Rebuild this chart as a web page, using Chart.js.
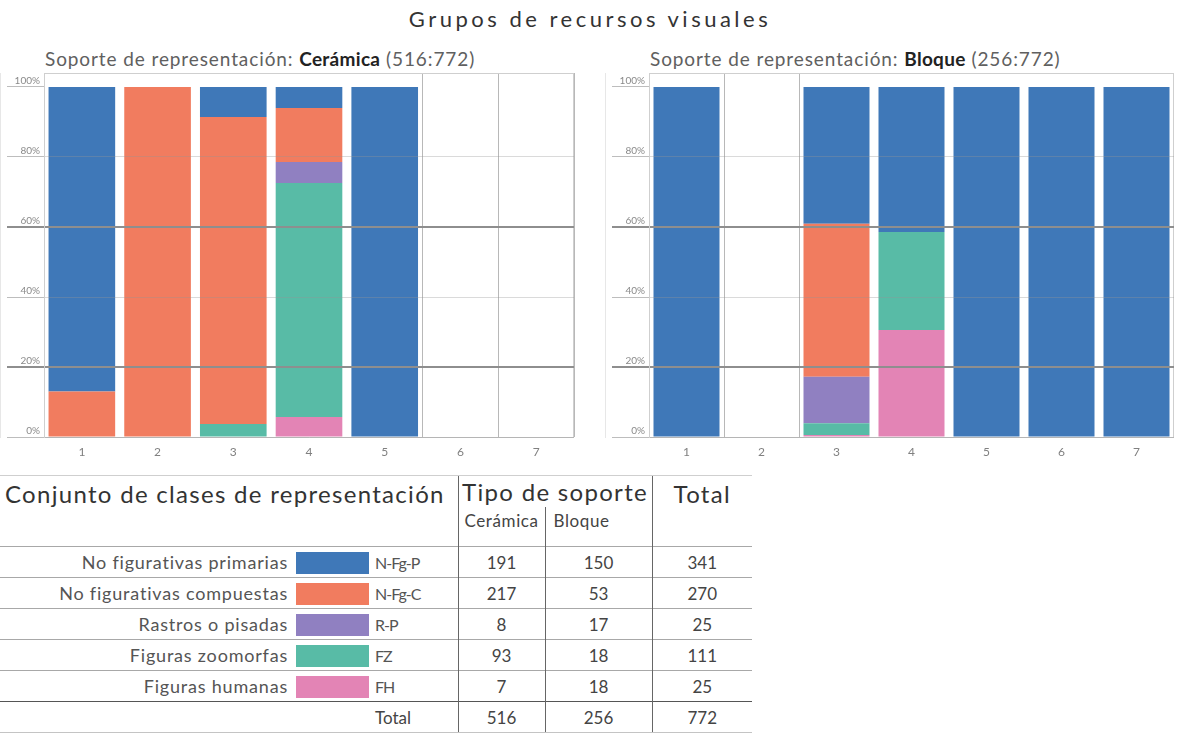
<!DOCTYPE html>
<html>
<head>
<meta charset="utf-8">
<script src="https://cdn.jsdelivr.net/npm/chart.js@4.4.0/dist/chart.umd.min.js"></script>
<style>
body{margin:0;background:#fff;width:1180px;height:737px;overflow:hidden;position:relative;font-family:Lato,sans-serif;color:#3a3a3a}
#title{position:absolute;left:0;top:5px;width:1180px;text-align:center;font-size:22px;letter-spacing:3.5px;color:#333}
.sub{position:absolute;top:47px;font-size:19px;letter-spacing:0.9px;color:#606060;white-space:nowrap}
.sub b{color:#222;font-weight:700;letter-spacing:0.3px}
canvas{position:absolute}
#tbl{position:absolute;left:0;top:475px;border-collapse:collapse;table-layout:fixed;width:752px}
#tbl td{padding:0;white-space:nowrap;border-top:1px solid #a8a8a8;height:30px;font-size:17px;color:#444;text-align:center}
#tbl tr.h1 td{height:31px;border-top:1px solid #cfcfcf;font-size:24px;letter-spacing:1.3px;color:#333;vertical-align:middle}
#tbl tr.h1 td.top{vertical-align:top;padding-top:3px;height:28px}
#tbl tr.h2 td{height:36px;border-top:none;font-size:17px;letter-spacing:0.6px;color:#444;vertical-align:top;padding-top:3px}
#tbl td.lab{text-align:right;padding-right:5px;font-size:18px;letter-spacing:0.8px;color:#555}
#tbl td.code{text-align:left;padding-left:3px;font-size:16px;letter-spacing:-1px;color:#555}
#tbl td.vl{border-left:1px solid #666}
#tbl tr.tot td{border-top:1px solid #555;border-bottom:1px solid #c4c4c4}
#tbl tr.tot td.code{font-size:17px;letter-spacing:0;color:#444}
.sw{display:inline-block;width:73px;height:22px;vertical-align:middle}
</style>
</head>
<body>
<div id="title">Grupos de recursos visuales</div>
<div class="sub" style="left:45px">Soporte de representación: <b>Cerámica</b> (516:772)</div>
<div class="sub" style="left:650px">Soporte de representación: <b>Bloque</b> (256:772)</div>
<canvas id="c1" width="580" height="400" style="left:0;top:65px"></canvas>
<canvas id="c2" width="575" height="400" style="left:605px;top:65px"></canvas>
<table id="tbl"></table>
<script>
// categories on the x axis
var categories = ['1', '2', '3', '4', '5', '6', '7'];

// classes, bottom of the stack first
var classCodes = ['FH', 'FZ', 'R-P', 'N-Fg-C', 'N-Fg-P'];
var classColors = ['#e384b5', '#58bba6', '#9080c1', '#f17c5f', '#3f78b8'];

// percent of each category (Cerámica)
var ceramicaFH   = [0, 0, 0,    5.7,  0,   0, 0];
var ceramicaFZ   = [0, 0, 3.7,  66.9, 0,   0, 0];
var ceramicaRP   = [0, 0, 0,    6,    0,   0, 0];
var ceramicaNFgC = [13, 100, 87.7, 15.4, 0, 0, 0];
var ceramicaNFgP = [87, 0, 8.6,  6,    100, 0, 0];

// percent of each category (Bloque)
var bloqueFH   = [0, 0, 0.6,  30.6, 0, 0, 0];
var bloqueFZ   = [0, 0, 3.3,  28,   0, 0, 0];
var bloqueRP   = [0, 0, 13.3, 0,    0, 0, 0];
var bloqueNFgC = [0, 0, 43.7, 0,    0, 0, 0];
var bloqueNFgP = [100, 0, 39.1, 41.4, 100, 100, 100];

var yTicks = [0, 20, 40, 60, 80, 100];

// table
var tableNames = ['No figurativas primarias', 'No figurativas compuestas', 'Rastros o pisadas', 'Figuras zoomorfas', 'Figuras humanas'];
var tableCodes = ['N-Fg-P', 'N-Fg-C', 'R-P', 'FZ', 'FH'];
var tableColors = ['#3f78b8', '#f17c5f', '#9080c1', '#58bba6', '#e384b5'];
var ceramicaCounts = [191, 217, 8, 93, 7];
var bloqueCounts = [150, 53, 17, 18, 18];

var boxPlugin = {
    id: 'box',
    beforeDatasetsDraw: function (chart) {
        var a = chart.chartArea, ctx = chart.ctx;
        ctx.save();
        ctx.strokeStyle = '#cfcfcf';
        ctx.lineWidth = 1;
        ctx.strokeRect(a.left + 0.5, a.top + 0.5, a.right - a.left - 1, a.bottom - a.top);
        ctx.restore();
    }
};

function makeChart(id, series) {
    var totals = categories.map(function (c, i) {
        var s = 0;
        for (var k = 0; k < series.length; k++) s += series[k][i];
        return s;
    });
    var datasets = classCodes.map(function (code, k) {
        return {label: code, data: series[k], backgroundColor: classColors[k], borderWidth: 0};
    });
    return new Chart(document.getElementById(id), {
        type: 'bar',
        data: {labels: categories, datasets: datasets},
        options: {
            responsive: false,
            animation: false,
            layout: {padding: {top: 8, right: 6}},
            plugins: {legend: {display: false}, tooltip: {enabled: false}},
            datasets: {bar: {categoryPercentage: 1, barPercentage: 0.88}},
            scales: {
                x: {
                    stacked: true,
                    offset: true,
                    grid: {
                        offset: true,
                        drawTicks: false,
                        // only the slots of empty categories show their edges
                        color: function (c) {
                            var i = c.tick ? c.index : categories.length;
                            var empty = (i > 0 && totals[i - 1] === 0) || (i < categories.length && totals[i] === 0);
                            return empty ? '#b8b8b8' : 'rgba(0,0,0,0)';
                        }
                    },
                    border: {display: false},
                    ticks: {color: '#808080', font: {family: 'Lato', size: 12}, padding: 8},
                    afterFit: function (s) { s.height = 28; }
                },
                y: {
                    stacked: true,
                    min: 0,
                    max: 104,
                    afterBuildTicks: function (s) {
                        s.ticks = yTicks.map(function (v) { return {value: v}; });
                    },
                    ticks: {
                        callback: function (v) { return v + '%'; },
                        padding: -33,
                        labelOffset: -6,
                        font: {family: 'Lato', size: 10},
                        color: '#8a8a8a'
                    },
                    grid: {
                        z: 1,
                        tickLength: 37,
                        color: function (c) {
                            var v = c.tick && c.tick.value;
                            if (v === 20 || v === 60) return '#8e8e8e';
                            if (v === 0) return '#b5b5b5';
                            if (v === 100) return 'rgba(0,0,0,0)';
                            return 'rgba(150,150,150,0.35)';
                        },
                        tickColor: function (c) {
                            var v = c.tick && c.tick.value;
                            if (v === 20 || v === 60) return '#8e8e8e';
                            return '#bdbdbd';
                        },
                        lineWidth: function (c) {
                            var v = c.tick && c.tick.value;
                            return (v === 20 || v === 60) ? 2 : 1;
                        }
                    },
                    border: {color: '#cfcfcf'},
                    afterFit: function (s) { s.width = 44; }
                }
            }
        },
        plugins: [boxPlugin]
    });
}

makeChart('c1', [ceramicaFH, ceramicaFZ, ceramicaRP, ceramicaNFgC, ceramicaNFgP]);
makeChart('c2', [bloqueFH, bloqueFZ, bloqueRP, bloqueNFgC, bloqueNFgP]);

// table
var sumC = 0, sumB = 0;
var html = '<colgroup><col style="width:293px"><col style="width:79px"><col style="width:86px">' +
    '<col style="width:87px"><col style="width:107px"><col style="width:100px"></colgroup>';
html += '<tr class="h1"><td colspan="3" rowspan="2" class="top" style="text-align:left;padding-left:5px">Conjunto de clases de representación</td>' +
    '<td colspan="2" class="vl">Tipo de soporte</td><td rowspan="2" class="vl top">Total</td></tr>';
html += '<tr class="h2"><td class="vl">Cerámica</td><td class="vl" style="text-align:left;padding-left:8px">Bloque</td></tr>';
for (var i = 0; i < tableNames.length; i++) {
    sumC += ceramicaCounts[i];
    sumB += bloqueCounts[i];
    html += '<tr><td class="lab">' + tableNames[i] + '</td>' +
        '<td><span class="sw" style="background:' + tableColors[i] + '"></span></td>' +
        '<td class="code">' + tableCodes[i] + '</td>' +
        '<td class="vl">' + ceramicaCounts[i] + '</td>' +
        '<td class="vl">' + bloqueCounts[i] + '</td>' +
        '<td class="vl">' + (ceramicaCounts[i] + bloqueCounts[i]) + '</td></tr>';
}
html += '<tr class="tot"><td></td><td></td><td class="code">Total</td>' +
    '<td class="vl">' + sumC + '</td><td class="vl">' + sumB + '</td><td class="vl">' + (sumC + sumB) + '</td></tr>';
document.getElementById('tbl').innerHTML = html;
</script>
</body>
</html>
